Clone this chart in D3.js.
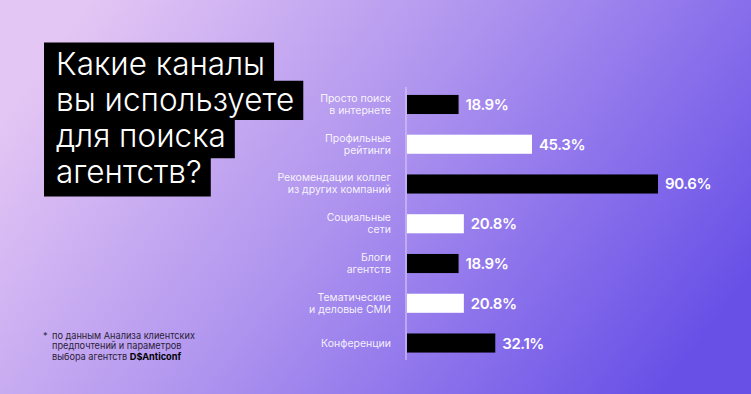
<!DOCTYPE html>
<html>
<head>
<meta charset="utf-8">
<script src="https://cdn.jsdelivr.net/npm/d3@7"></script>
<style>
  html, body { margin: 0; padding: 0; }
  #chart { width: 751px; height: 394px; }
  svg { display: block; font-family: "Inter", "Open Sans", sans-serif; }
</style>
</head>
<body>
<div id="chart"></div>
<script>
// data
const categories = [
  ["Просто поиск", "в интернете"],
  ["Профильные", "рейтинги"],
  ["Рекомендации коллег", "из других компаний"],
  ["Социальные", "сети"],
  ["Блоги", "агентств"],
  ["Тематические", "и деловые СМИ"],
  ["Конференции"]
];
const values = [18.9, 45.3, 90.6, 20.8, 18.9, 20.8, 32.1];
const barColors = ["#000", "#fff", "#000", "#fff", "#000", "#fff", "#000"];
const titleLines = ["Какие каналы", "вы используете", "для поиска", "агентств?"];
const noteLines = ["по данным Анализа клиентских", "предпочтений и параметров", "выбора агентств "];
const noteBrand = "D$Anticonf";

const width = 751, height = 394;
const svg = d3.select("#chart").append("svg").attr("width", width).attr("height", height);

// background
const grad = svg.append("defs").append("linearGradient")
  .attr("id", "bg").attr("x1", "0%").attr("y1", "30%").attr("x2", "100%").attr("y2", "70%");
grad.append("stop").attr("offset", "0%").attr("stop-color", "#e4c6f4");
grad.append("stop").attr("offset", "45%").attr("stop-color", "#b095ef");
grad.append("stop").attr("offset", "100%").attr("stop-color", "#6850e7");
svg.append("rect").attr("width", width).attr("height", height).attr("fill", "url(#bg)");

// title with stepped black boxes
const title = svg.append("g");
const boxH = 38.25, titleTop = 43, titleLeft = 44, padL = 12, padR = 9;
titleLines.forEach((t, i) => {
  const rect = title.append("rect").attr("fill", "#000");
  const txt = title.append("text")
    .attr("x", titleLeft + padL)
    .attr("y", 75 + i * 36)
    .attr("fill", "#fff")
    .attr("font-size", 31.5)
    .attr("font-weight", 300)
    .text(t);
  const w = txt.node().getComputedTextLength();
  rect.attr("x", titleLeft).attr("y", titleTop + i * boxH - 0.5)
    .attr("width", w + padL + padR).attr("height", boxH + 1);
});

// scales
const x = d3.scaleLinear().domain([0, d3.max(values)]).range([406, 658]);
const y = d3.scaleBand().domain(d3.range(values.length))
  .range([84.6, 362.9]).paddingInner(0.52).paddingOuter(0.26);

// axis line
svg.append("line")
  .attr("x1", x(0)).attr("x2", x(0))
  .attr("y1", 87).attr("y2", 360)
  .attr("stroke", "#d6c6f8").attr("stroke-width", 1.2);

// bars
svg.selectAll(".bar")
  .data(values)
  .join("rect")
  .attr("class", "bar")
  .attr("x", x(0) + 1)
  .attr("y", (d, i) => y(i))
  .attr("width", d => x(d) - x(0) - 1)
  .attr("height", y.bandwidth())
  .attr("fill", (d, i) => barColors[i]);

// value labels
svg.selectAll(".val")
  .data(values)
  .join("text")
  .attr("class", "val")
  .attr("x", d => x(d) + 7)
  .attr("y", (d, i) => y(i) + y.bandwidth() / 2 + 5.5)
  .attr("fill", "#fff")
  .attr("font-size", 15)
  .attr("font-weight", 600)
  .attr("letter-spacing", -0.4)
  .text(d => d.toFixed(1) + "%");

// category labels
const cat = svg.selectAll(".cat")
  .data(categories)
  .join("text")
  .attr("class", "cat")
  .attr("text-anchor", "end")
  .attr("fill", "#fff")
  .attr("fill-opacity", 0.9)
  .attr("font-size", 10.5)
  .attr("y", (d, i) => y(i) + y.bandwidth() / 2 + 3.5 - (d.length - 1) * 6);
cat.selectAll("tspan")
  .data(d => d)
  .join("tspan")
  .attr("x", 391)
  .attr("dy", (d, j) => j === 0 ? 0 : 12)
  .text(d => d);

// footnote
const note = svg.append("g").attr("fill", "#2a2238").attr("font-size", 9.2);
note.append("text").attr("x", 43).attr("y", 339).text("*");
noteLines.forEach((t, i) => {
  const tx = note.append("text").attr("x", 52).attr("y", 339 + i * 10.3).text(t);
  if (i === noteLines.length - 1) {
    tx.append("tspan").attr("font-weight", 700).attr("fill", "#000").text(noteBrand);
  }
});
</script>
</body>
</html>
